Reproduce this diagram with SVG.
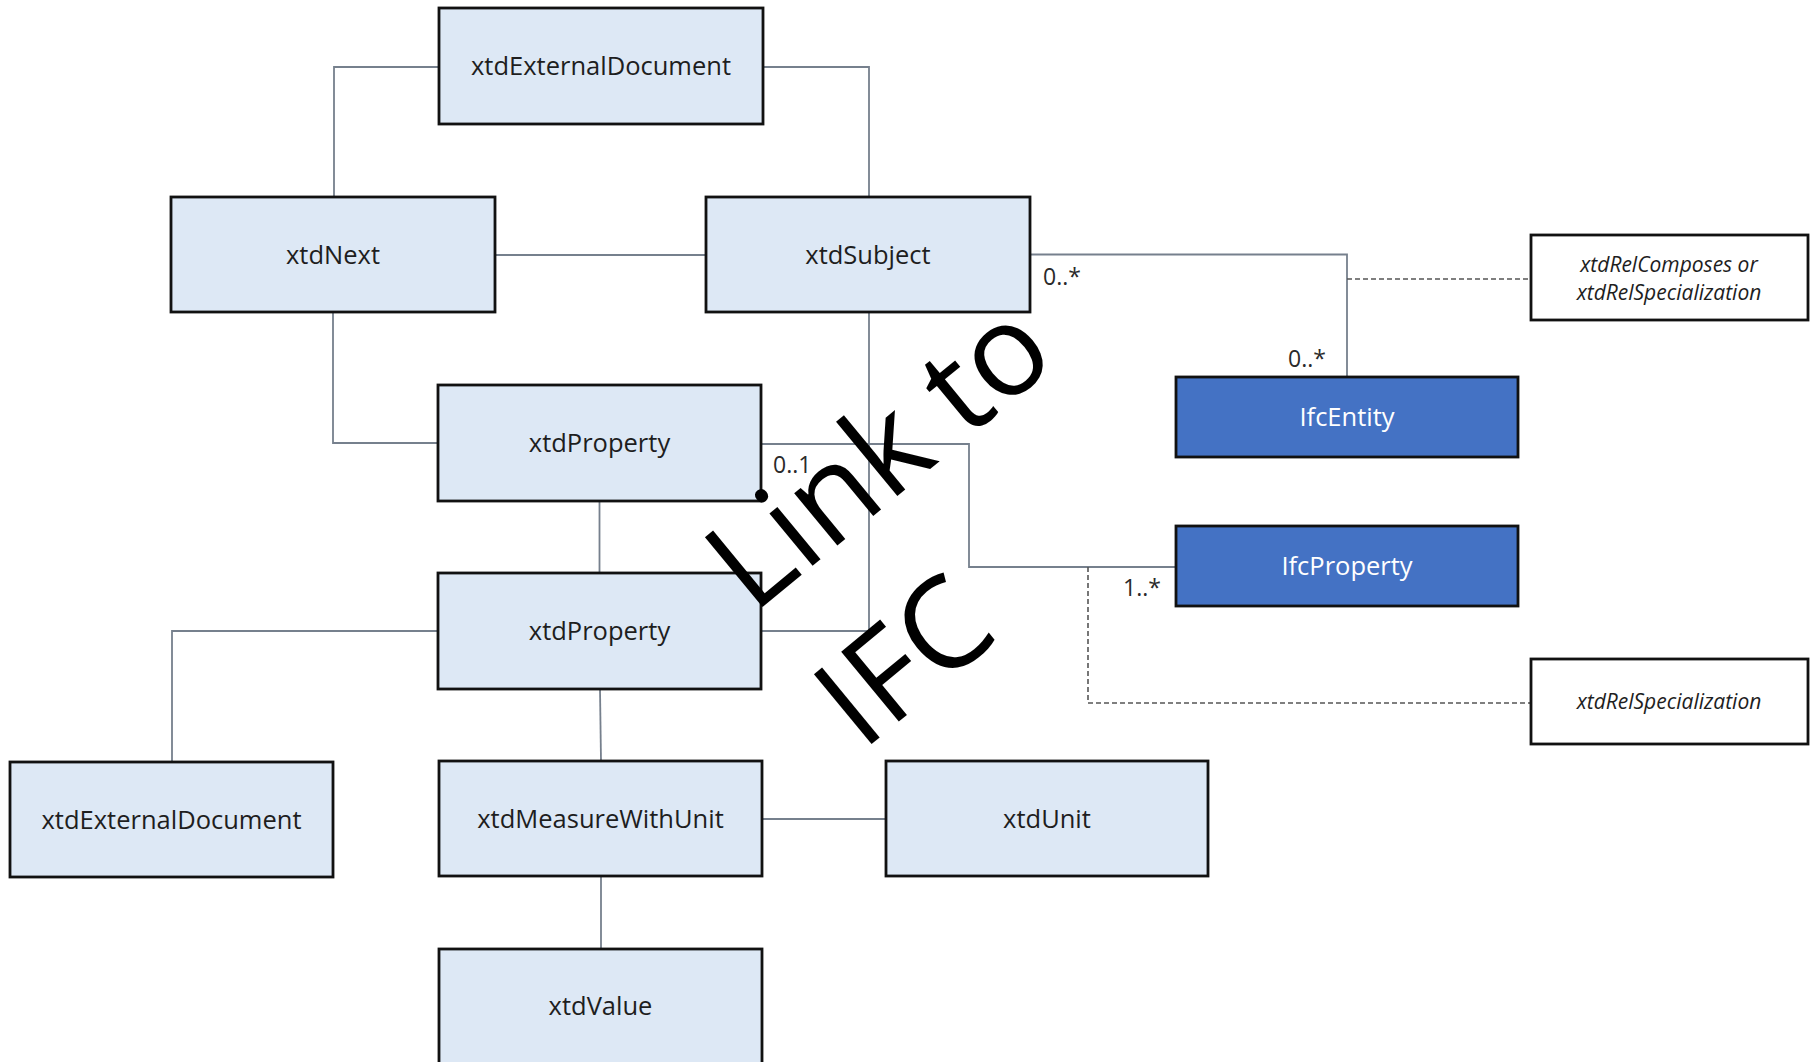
<svg xmlns="http://www.w3.org/2000/svg" width="1813" height="1062" viewBox="0 0 1813 1062">
<style>
.box{fill:#dde8f5;stroke:#111;stroke-width:2.8}
.ifc{fill:#4472c4;stroke:#111;stroke-width:2.8}
.note{fill:#fff;stroke:#111;stroke-width:2.8}
.lbl{font-family:"Open Sans","Noto Sans",sans-serif;font-size:25.5px;fill:#1e1e1e;text-anchor:middle}
.wl{fill:#fff}
.it{font-family:"Open Sans","Noto Sans",sans-serif;font-style:italic;font-size:21px;fill:#1e1e1e;text-anchor:middle}
.card{font-family:"Open Sans","Noto Sans",sans-serif;font-size:23px;fill:#2a2a2a}
.con{fill:none;stroke:#76808d;stroke-width:1.8}
.dash{fill:none;stroke:#555;stroke-width:1.6;stroke-dasharray:5 3}
.big{font-family:"Open Sans","Noto Sans",sans-serif;font-size:127px;fill:#000}
</style>
<rect width="1813" height="1062" fill="#fff"/>
<g id="connectors">
<polyline class="con" points="439,67 334,67 334,196"/>
<polyline class="con" points="763,67 869,67 869,196"/>
<line class="con" x1="495" y1="255" x2="706" y2="255"/>
<polyline class="con" points="333,312 333,443 438,443"/>
<polyline class="con" points="869,312 869,631 761,631"/>
<polyline class="con" points="761,444 969,444 969,567 1176,567"/>
<line class="con" x1="599.5" y1="501" x2="599.5" y2="573"/>
<polyline class="con" points="438,631 172,631 172,762"/>
<line class="con" x1="600" y1="689" x2="601" y2="761"/>
<line class="con" x1="762" y1="819" x2="886" y2="819"/>
<line class="con" x1="601" y1="876" x2="601" y2="949"/>
<polyline class="con" points="1030,254.5 1347,254.5 1347,376"/>
<line class="dash" x1="1347" y1="279" x2="1530" y2="279"/>
<polyline class="dash" points="1088,567 1088,703 1531,703"/>
<text class="card" x="1043" y="285">0..*</text>
<text class="card" x="1288" y="367">0..*</text>
<text class="card" x="1123" y="596">1..*</text>
<text class="card" x="773" y="473" fill="#444">0..1</text>
</g>
<g id="xtdExternalDocument-top"><rect class="box" x="439" y="8" width="324" height="116"/><text class="lbl" x="601" y="75">xtdExternalDocument</text></g>
<g id="xtdNext"><rect class="box" x="171" y="197" width="324" height="115"/><text class="lbl" x="333" y="264">xtdNext</text></g>
<g id="xtdSubject"><rect class="box" x="706" y="197" width="324" height="115"/><text class="lbl" x="868" y="264">xtdSubject</text></g>
<g id="xtdProperty-1"><rect class="box" x="438" y="385" width="323" height="116"/><text class="lbl" x="599.5" y="452">xtdProperty</text></g>
<g id="xtdProperty-2"><rect class="box" x="438" y="573" width="323" height="116"/><text class="lbl" x="599.5" y="640">xtdProperty</text></g>
<g id="xtdExternalDocument-bottom"><rect class="box" x="10" y="762" width="323" height="115"/><text class="lbl" x="171.5" y="829">xtdExternalDocument</text></g>
<g id="xtdMeasureWithUnit"><rect class="box" x="439" y="761" width="323" height="115"/><text class="lbl" x="600.5" y="828">xtdMeasureWithUnit</text></g>
<g id="xtdUnit"><rect class="box" x="886" y="761" width="322" height="115"/><text class="lbl" x="1047" y="828">xtdUnit</text></g>
<g id="xtdValue"><rect class="box" x="439" y="949" width="323" height="130"/><text class="lbl" x="600.5" y="1015">xtdValue</text></g>
<g id="IfcEntity"><rect class="ifc" x="1176" y="377" width="342" height="80"/><text class="lbl wl" x="1347" y="426">IfcEntity</text></g>
<g id="IfcProperty"><rect class="ifc" x="1176" y="526" width="342" height="80"/><text class="lbl wl" x="1347" y="575">IfcProperty</text></g>
<g id="note-composes"><rect class="note" x="1531" y="235" width="277" height="85"/><text class="it" x="1669" y="272">xtdRelComposes or</text><text class="it" x="1669" y="300">xtdRelSpecialization</text></g>
<g id="note-specialization"><rect class="note" x="1531" y="659" width="277" height="85"/><text class="it" x="1669" y="709">xtdRelSpecialization</text></g>
<g id="watermark">
<text class="big" transform="translate(753,615) rotate(-39.5)">Link to</text>
<text class="big" transform="translate(862,752) rotate(-39.5)">IFC</text>
</g>
</svg>
